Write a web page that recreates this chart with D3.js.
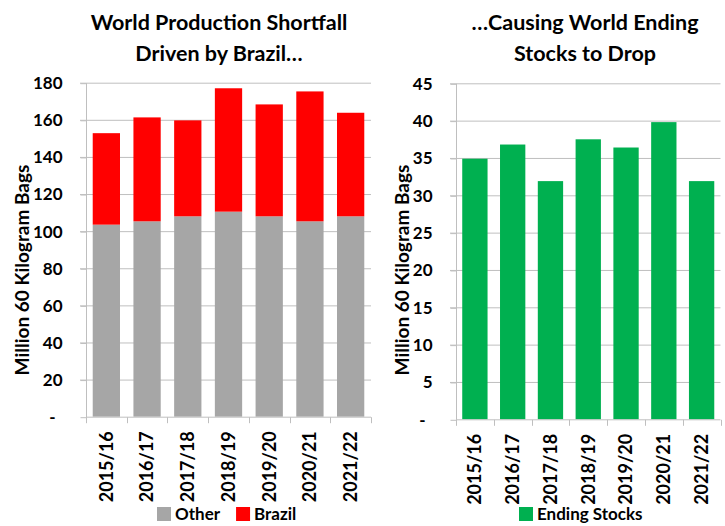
<!DOCTYPE html>
<html>
<head>
<meta charset="utf-8">
<script src="https://cdn.jsdelivr.net/npm/d3@7"></script>
<style>
  body { margin: 0; background: #fff; }
  text { font-family: Lato, "Open Sans", sans-serif; font-weight: bold; fill: #000; }
</style>
</head>
<body>
<svg id="chart" width="725" height="526"></svg>
<script>
// marketing years
var years = ["2015/16", "2016/17", "2017/18", "2018/19", "2019/20", "2020/21", "2021/22"];
// production, million 60 kg bags
var otherProd = [103.5, 105.3, 108.0, 110.5, 108.0, 105.3, 108.0];
var brazilProd = [49.3, 56.0, 51.7, 66.5, 60.3, 70.0, 55.8];
// world ending stocks
var endingStocks = [34.9, 36.8, 31.9, 37.5, 36.4, 39.8, 31.9];

var leftTicks = [0, 20, 40, 60, 80, 100, 120, 140, 160, 180];
var rightTicks = [0, 5, 10, 15, 20, 25, 30, 35, 40, 45];

var svg = d3.select("#chart");
svg.append("rect").attr("width", 725).attr("height", 526).attr("fill", "#fff");

var gridColor = "#bfbfbf";

function drawPanel(opts) {
    var x = d3.scaleBand()
        .domain(years)
        .range([opts.left, opts.right])
        .paddingInner(0.33)
        .paddingOuter(0.165);

    var y = d3.scaleLinear()
        .domain([0, opts.max])
        .range([opts.bottom, opts.top]);

    var g = svg.append("g");

    // gridlines
    g.selectAll(".grid")
        .data(opts.ticks.filter(d => d > 0)).enter()
        .append("line")
        .attr("x1", opts.left - 6)
        .attr("x2", opts.right)
        .attr("y1", d => y(d) + 0.5)
        .attr("y2", d => y(d) + 0.5)
        .style("stroke", gridColor)
        .style("stroke-width", "1px");

    // stacked bars
    opts.series.forEach(function(s, k) {
        g.selectAll(".bar" + k)
            .data(years).enter()
            .append("rect")
            .attr("x", d => x(d))
            .attr("width", x.bandwidth())
            .attr("y", (d, i) => y(s.base[i] + s.values[i]))
            .attr("height", (d, i) => y(s.base[i]) - y(s.base[i] + s.values[i]))
            .attr("fill", s.color);
    });

    // y axis
    var yAxis = d3.axisLeft(y)
        .tickValues(opts.ticks)
        .tickSize(6)
        .tickPadding(18)
        .tickFormat(d => d === 0 ? "-" : d);
    var ya = g.append("g")
        .attr("transform", "translate(" + (opts.left + 0.5) + ",0.5)")
        .call(yAxis);
    ya.select(".domain").attr("stroke", gridColor).attr("d", "M0," + opts.top + "V" + opts.bottom);
    ya.selectAll(".tick line").attr("stroke", gridColor);
    ya.selectAll(".tick text")
        .style("font-size", "17px")
        .attr("dx", d => d === 0 ? -7 : 0);

    // x axis with ticks on category boundaries
    var xa = g.append("g").attr("transform", "translate(0," + (opts.bottom + 0.5) + ")");
    xa.append("line")
        .attr("x1", opts.left).attr("x2", opts.right)
        .attr("stroke", gridColor);
    var bounds = years.map(d => x(d) - x.step() * x.paddingInner() / 2).concat([opts.right]);
    xa.selectAll(".xt")
        .data(bounds).enter()
        .append("line")
        .attr("x1", d => Math.round(d) + 0.5).attr("x2", d => Math.round(d) + 0.5)
        .attr("y1", 0).attr("y2", 6)
        .attr("stroke", gridColor);
    xa.selectAll(".xl")
        .data(years).enter()
        .append("text")
        .attr("transform", d => "translate(" + (x(d) + x.bandwidth() / 2) + ",14) rotate(-90)")
        .attr("text-anchor", "end")
        .attr("dy", "0.35em")
        .style("font-size", "18px")
        .text(d => d);

    // y axis title
    svg.append("text")
        .attr("transform", "translate(" + opts.titleX + ",270) rotate(-90)")
        .attr("text-anchor", "middle")
        .attr("dy", "0.35em")
        .style("font-size", "19px")
        .text("Million 60 Kilogram Bags");

    // chart title
    var t = svg.append("text")
        .attr("text-anchor", "middle")
        .style("font-size", "21.5px");
    opts.title.forEach(function(line, i) {
        t.append("tspan")
            .attr("x", opts.titleCenter)
            .attr("y", 22 + i * 31)
            .attr("dy", "0.35em")
            .text(line);
    });

    // legend
    var lg = svg.append("g");
    var lx = opts.legendX;
    opts.series.forEach(function(s) {
        lg.append("rect")
            .attr("x", lx).attr("y", 507)
            .attr("width", 14).attr("height", 14)
            .attr("fill", s.color);
        var tx = lg.append("text")
            .attr("x", lx + 18).attr("y", 514)
            .attr("dy", "0.35em")
            .style("font-size", "17px")
            .text(s.name);
        lx += 18 + tx.node().getComputedTextLength() + 16;
    });
}

drawPanel({
    left: 86, right: 371, top: 82.7, bottom: 416.7, max: 180,
    ticks: leftTicks,
    titleX: 22, titleCenter: 219,
    title: ["World Production Shortfall", "Driven by Brazil\u2026"],
    legendX: 157,
    series: [
        { name: "Other", values: otherProd, base: years.map(() => 0), color: "#a6a6a6" },
        { name: "Brazil", values: brazilProd, base: otherProd, color: "#ff0000" }
    ]
});

drawPanel({
    left: 456, right: 720.5, top: 83.3, bottom: 419.3, max: 45,
    ticks: rightTicks,
    titleX: 402, titleCenter: 585,
    title: ["\u2026Causing World Ending", "Stocks to Drop"],
    legendX: 519,
    series: [
        { name: "Ending Stocks", values: endingStocks, base: years.map(() => 0), color: "#00b050" }
    ]
});
</script>
</body>
</html>
